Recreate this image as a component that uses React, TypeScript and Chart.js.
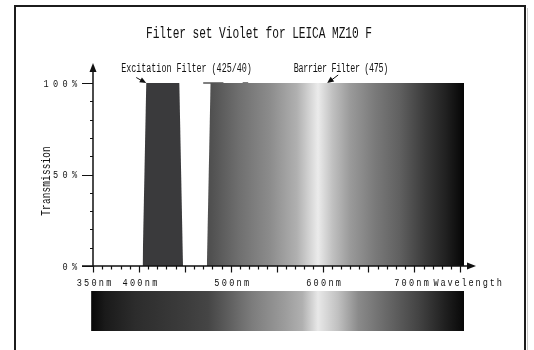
import React, { useEffect, useRef } from 'react';
import { Chart, registerables } from 'chart.js';

Chart.register(...registerables);

// ---------- data ----------
const TITLE = 'Filter set Violet for LEICA MZ10 F';
const X_TITLE = 'Wavelength';
const Y_TITLE = 'Transmission';
const X_MIN = 350;
const X_MAX = 754;
const X_TICK_VALUES = [350, 400, 500, 600, 700];
const X_TICK_LABELS = ['350nm', '400nm', '500nm', '600nm', '700nm'];
const Y_TICK_VALUES = [0, 50, 100];
const Y_TICK_LABELS = ['0%', '50%', '100%'];

const EXCITATION_NAME = 'Excitation Filter (425/40)';
const EXCITATION_NM = [404, 408, 444, 448];
const EXCITATION_T = [0, 100, 100, 0];
const EXCITATION_ARROW_AT = [408, 100];

const BARRIER_NAME = 'Barrier Filter (475)';
const BARRIER_NM = [474, 478, 754, 754];
const BARRIER_T = [0, 100, 100, 0];
const BARRIER_ARROW_AT = [605, 100];

const STRAY_NM = [470, 492, 502, 513, 519];
const STRAY_T = [100, 100, null, 100, 100];

const BARRIER_SHADE_NM = [478, 510, 543, 572, 595, 611, 630, 657, 684, 712, 733, 754];
const BARRIER_SHADE_GRAY = [80, 112, 140, 176, 235, 192, 154, 122, 96, 58, 34, 5];

const SPECTRUM_NM = [348, 363, 396, 450, 475, 494, 523, 559, 578, 595, 617, 639, 668, 704, 733, 754];
const SPECTRUM_GRAY = [10, 26, 44, 60, 69, 90, 124, 156, 176, 232, 192, 138, 106, 68, 32, 8];

// ---------- helpers ----------
const FONT = '"Liberation Mono", "DejaVu Sans Mono", monospace';
const gray = (g: number) => `rgb(${g},${g},${g})`;

function shadeGradient(ctx: CanvasRenderingContext2D, chart: any, nms: number[], grays: number[]) {
  const xs = chart.scales.x;
  const x0 = xs.getPixelForValue(X_MIN);
  const x1 = xs.getPixelForValue(X_MAX);
  const g = ctx.createLinearGradient(x0, 0, x1, 0);
  nms.forEach((nm, i) => {
    const off = Math.min(1, Math.max(0, (nm - X_MIN) / (X_MAX - X_MIN)));
    g.addColorStop(off, gray(grays[i]));
  });
  return g;
}

// fixed-pitch run of glyphs, each centred on its own cell
function monoText(ctx: CanvasRenderingContext2D, text: string, firstCenter: number, y: number, size: number, pitch: number, sx: number) {
  ctx.font = `${size}px ${FONT}`;
  for (let i = 0; i < text.length; i++) {
    const ch = text[i];
    if (ch === ' ') continue;
    ctx.save();
    ctx.translate(firstCenter + i * pitch, y);
    ctx.scale(sx, 1);
    ctx.textAlign = 'center';
    ctx.textBaseline = 'alphabetic';
    ctx.fillText(ch, 0, 0);
    ctx.restore();
  }
}

function monoCentered(ctx: CanvasRenderingContext2D, text: string, cx: number, y: number, size: number, pitch: number, sx: number) {
  monoText(ctx, text, cx - ((text.length - 1) / 2) * pitch, y, size, pitch, sx);
}

function arrowHead(ctx: CanvasRenderingContext2D, fx: number, fy: number, tx: number, ty: number, len: number, half: number) {
  const a = Math.atan2(ty - fy, tx - fx);
  ctx.beginPath();
  ctx.moveTo(tx, ty);
  ctx.lineTo(tx - len * Math.cos(a) + half * Math.sin(a), ty - len * Math.sin(a) - half * Math.cos(a));
  ctx.lineTo(tx - len * Math.cos(a) - half * Math.sin(a), ty - len * Math.sin(a) + half * Math.cos(a));
  ctx.closePath();
  ctx.fill();
}

const decorPlugin = {
  id: 'decor',
  afterDatasetsDraw(chart: any) {
    const ctx: CanvasRenderingContext2D = chart.ctx;
    const xs = chart.scales.x;
    const ys = chart.scales.y;
    const X = (v: number) => xs.getPixelForValue(v);
    const Y = (v: number) => ys.getPixelForValue(v);
    const ink = '#111';
    ctx.save();

    // frame
    ctx.strokeStyle = '#1c1c1c';
    ctx.lineWidth = 2;
    ctx.beginPath();
    ctx.moveTo(15, 360);
    ctx.lineTo(15, 6);
    ctx.lineTo(525, 6);
    ctx.lineTo(525, 360);
    ctx.stroke();
    ctx.strokeStyle = '#c8c8c8';
    ctx.lineWidth = 1;
    ctx.beginPath();
    ctx.moveTo(527.5, 8);
    ctx.lineTo(527.5, 360);
    ctx.stroke();

    ctx.fillStyle = ink;
    // title
    monoCentered(ctx, TITLE, 259, 38, 16, 6.64, 0.7);

    // axes
    const ox = X(X_MIN);
    const oy = Y(0);
    ctx.strokeStyle = ink;
    ctx.lineWidth = 1.5;
    ctx.beginPath();
    ctx.moveTo(ox, oy);
    ctx.lineTo(ox, Y(100) - 12);
    ctx.moveTo(ox - 11, oy);
    ctx.lineTo(X(X_MAX) + 4, oy);
    ctx.stroke();
    arrowHead(ctx, ox, oy, ox, Y(100) - 20, 9, 3.5);
    arrowHead(ctx, ox, oy, X(X_MAX) + 12, oy, 9, 3.5);

    // x ticks every 10 nm
    ctx.lineWidth = 1.2;
    ctx.beginPath();
    for (let v = X_MIN; v <= 750; v += 10) {
      const major = (v - X_MIN) % 50 === 0;
      const x = Math.round(X(v)) + 0.5;
      ctx.moveTo(x, oy);
      ctx.lineTo(x, oy + (major ? 6.5 : 3.5));
    }
    // y ticks every 10 %
    for (let v = 0; v <= 100; v += 10) {
      const major = v % 50 === 0;
      const y = Math.round(Y(v)) + 0.5;
      ctx.moveTo(ox, y);
      ctx.lineTo(ox - (major ? 11 : 3), y);
    }
    ctx.stroke();

    // x tick labels and axis title
    const pitchX = 7.4;
    const titleStart = 436;
    X_TICK_LABELS.forEach((lab, i) => {
      const half = ((lab.length - 1) / 2) * pitchX;
      const c = Math.min(X(X_TICK_VALUES[i]) + 1, titleStart - 6 - half - pitchX / 2);
      monoText(ctx, lab, c - half, 286, 11, pitchX, 0.78);
    });
    monoText(ctx, X_TITLE, titleStart, 286, 11, 7.03, 0.78);

    // y tick labels
    const pitchY = 9.5;
    Y_TICK_LABELS.forEach((lab, i) => {
      const y = Y(Y_TICK_VALUES[i]) + 3.5;
      monoText(ctx, lab, 74.5 - (lab.length - 1) * pitchY, y, 11, pitchY, 0.78);
    });

    // y title (rotated)
    ctx.save();
    ctx.translate(50, 181);
    ctx.rotate(-Math.PI / 2);
    monoCentered(ctx, Y_TITLE, 0, 0, 13, 5.8, 0.72);
    ctx.restore();

    // annotations
    monoCentered(ctx, EXCITATION_NAME, 186.5, 71.5, 12, 5.02, 0.7);
    monoCentered(ctx, BARRIER_NAME, 341, 71.5, 12, 4.7, 0.7);

    ctx.lineWidth = 1;
    const ex = X(EXCITATION_ARROW_AT[0]);
    const ey = Y(EXCITATION_ARROW_AT[1]);
    ctx.beginPath();
    ctx.moveTo(ex - 10, ey - 5.5);
    ctx.lineTo(ex - 3, ey - 1.5);
    ctx.stroke();
    arrowHead(ctx, ex - 10, ey - 5.5, ex, ey, 6.5, 2.8);

    const bx = X(BARRIER_ARROW_AT[0]);
    const by = Y(BARRIER_ARROW_AT[1]);
    ctx.beginPath();
    ctx.moveTo(bx + 11, by - 8);
    ctx.lineTo(bx + 3, by - 2);
    ctx.stroke();
    arrowHead(ctx, bx + 11, by - 8, bx, by, 6.5, 3);

    // spectrum bar
    const sx0 = X(SPECTRUM_NM[0]);
    const sx1 = X(SPECTRUM_NM[SPECTRUM_NM.length - 1]);
    ctx.fillStyle = shadeGradient(ctx, chart, SPECTRUM_NM, SPECTRUM_GRAY);
    ctx.fillRect(sx0, 291, sx1 - sx0, 40);

    ctx.restore();
  },
};

export default function App() {
  const ref = useRef<HTMLCanvasElement | null>(null);

  useEffect(() => {
    if (!ref.current) return;
    const toPts = (xs: number[], ys: (number | null)[]) => xs.map((x, i) => ({ x, y: ys[i] }));
    const chart = new Chart(ref.current, {
      type: 'line',
      data: {
        datasets: [
          {
            label: BARRIER_NAME,
            data: toPts(BARRIER_NM, BARRIER_T),
            fill: 'origin',
            borderWidth: 0,
            pointRadius: 0,
            tension: 0,
            backgroundColor: (c: any) =>
              c.chart.chartArea ? shadeGradient(c.chart.ctx, c.chart, BARRIER_SHADE_NM, BARRIER_SHADE_GRAY) : '#888',
          },
          {
            label: EXCITATION_NAME,
            data: toPts(EXCITATION_NM, EXCITATION_T),
            fill: 'origin',
            borderWidth: 0,
            pointRadius: 0,
            tension: 0,
            backgroundColor: '#3a3a3c',
          },
          {
            label: 'edge',
            data: toPts(STRAY_NM, STRAY_T),
            fill: false,
            borderColor: '#555',
            borderWidth: 1.5,
            pointRadius: 0,
            spanGaps: false,
          },
        ] as any,
      },
      options: {
        animation: false,
        responsive: false,
        devicePixelRatio: 1,
        clip: false as any,
        layout: { padding: { left: 93, right: 70, top: 83, bottom: 84 } },
        scales: {
          x: { type: 'linear', min: X_MIN, max: X_MAX, display: false },
          y: { type: 'linear', min: 0, max: 100, display: false },
        },
        plugins: {
          legend: { display: false },
          tooltip: { enabled: false },
          title: { display: false },
        },
      },
      plugins: [decorPlugin],
    });
    return () => chart.destroy();
  }, []);

  return (
    <div style={{ position: 'absolute', left: 0, top: 0, width: 534, height: 350, background: '#fff' }}>
      <canvas ref={ref} width={534} height={350} style={{ display: 'block', width: 534, height: 350 }} />
    </div>
  );
}
